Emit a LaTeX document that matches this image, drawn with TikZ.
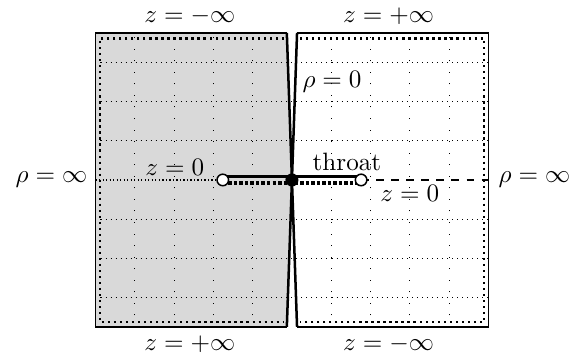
\documentclass[tikz,border=0pt]{standalone}
\usepackage{amsmath}
\begin{document}
\begin{tikzpicture}[x=0.55cm,y=0.55cm,
  gridh/.style={line width=0.4pt,dash pattern=on 0.4pt off 1.6pt},
  gridv/.style={line width=0.4pt,dash pattern=on 0.4pt off 4.2pt},
  edgedots/.style={line width=0.9pt,dash pattern=on 0.9pt off 1.5pt},
  frame/.style={line width=0.5pt},
  slant/.style={line width=1pt},
  throatsolid/.style={line width=1.3pt},
  throatdots/.style={line width=1.4pt,dash pattern=on 1.4pt off 0.8pt},
  opencirc/.style={circle,draw,fill=white,line width=0.6pt,inner sep=0pt,minimum size=4.6pt},
  fullcirc/.style={circle,draw,fill=black,line width=0.6pt,inner sep=0pt,minimum size=4.6pt},
  lab/.style={inner sep=0pt}]
\useasboundingbox (-7.43,-4.48) rectangle (7.28,4.58);
% panels
\fill[gray!30] (-5,3.74) -- (-0.13,3.74) -- (0,0) -- (-0.13,-3.74) -- (-5,-3.74) -- cycle;
% grid
\foreach \y in {-3,-2,-1,1,2,3} \draw[gridh] (-5,\y) -- (5,\y);
\foreach \x in {-4,-3,-2,-1,1,2,3,4} \draw[gridv] (\x,-3.74) -- (\x,3.74);
% thick dotted inner edges
\draw[edgedots] (-0.2,3.6) -- (-4.89,3.6) -- (-4.89,-3.62) -- (-0.2,-3.62);
\draw[edgedots] (0.2,3.6) -- (4.89,3.6) -- (4.89,-3.62) -- (0.2,-3.62);
% frames
\draw[frame] (-0.13,3.74) -- (-5,3.74) -- (-5,-3.74) -- (-0.13,-3.74);
\draw[frame] (0.13,3.74) -- (5,3.74) -- (5,-3.74) -- (0.13,-3.74);
\coordinate (tl) at (-0.13,3.74);
\coordinate (bl) at (-0.13,-3.74);
\coordinate (tr) at (0.13,3.74);
\coordinate (br) at (0.13,-3.74);
\coordinate (c) at (0,0);
\draw[slant] (tl) -- (c) -- (bl);
\draw[slant] (tr) -- (c) -- (br);
% z=0 line
\coordinate (lt) at (-1.76,0);
\coordinate (rt) at (1.76,0);
\coordinate (le) at (-5,0);
\coordinate (re) at (5,0);
\draw[line width=0.5pt,dash pattern=on 0.5pt off 0.9pt] (le) -- (lt);
\draw[line width=0.5pt,dash pattern=on 3pt off 3pt] (rt) -- (re);
\draw[throatsolid] ([yshift=1.3pt]lt) -- ([yshift=1.3pt]rt);
\draw[throatdots] ([yshift=-1.3pt]lt) -- ([yshift=-1.3pt]rt);
\node[opencirc] (L) at (lt) {};
\node[opencirc] (R) at (rt) {};
\node[fullcirc] (C) at (c) {};
% labels
\node[lab] (t1) at (-2.6,4.17) {$z=-\infty$};
\node[lab] (t2) at (2.46,4.17) {$z=+\infty$};
\node[lab] (b1) at (-2.6,-4.18) {$z=+\infty$};
\node[lab] (b2) at (2.46,-4.18) {$z=-\infty$};
\node[lab] (r0) at (1.02,2.5) {$\rho=0$};
\node[lab] (th) at (1.4,0.45) {throat};
\node[lab] (zl) at (-2.98,0.33) {$z=0$};
\node[lab] (zr) at (3.0,-0.33) {$z=0$};
\node[lab,anchor=east] (rl) at (-5.2,0) {$\rho=\infty$};
\node[lab,anchor=west] (rr) at (5.25,0) {$\rho=\infty$};
\end{tikzpicture}
\end{document}
